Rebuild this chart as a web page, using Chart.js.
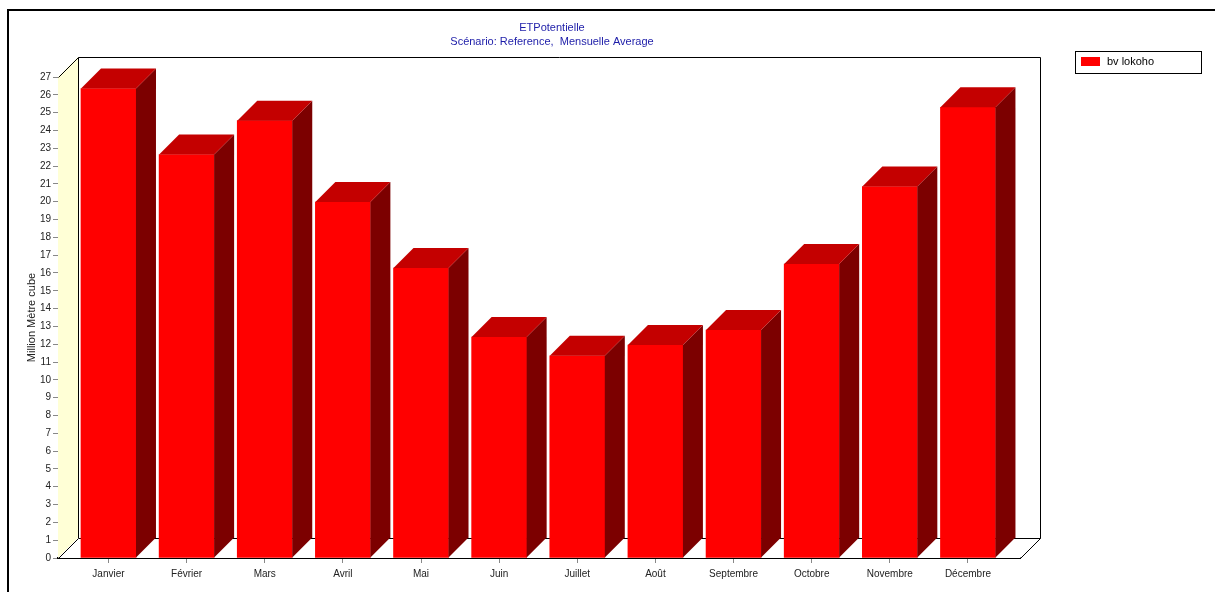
<!DOCTYPE html>
<html>
<head>
<meta charset="utf-8">
<title>ETPotentielle</title>
<script src="https://cdn.jsdelivr.net/npm/chart.js@4/dist/chart.umd.min.js"></script>
<style>
  html, body { margin: 0; padding: 0; background: #ffffff; }
  #wrap { width: 1215px; height: 592px; position: relative; }
</style>
</head>
<body>
<div id="wrap"><canvas id="chart" width="1215" height="592"></canvas></div>
<script>
// Monthly mean potential evapotranspiration (million m³), scenario "Reference"
const months = ['Janvier', 'Février', 'Mars', 'Avril', 'Mai', 'Juin',
                'Juillet', 'Août', 'Septembre', 'Octobre', 'Novembre', 'Décembre'];
const etpValues = [26.35, 22.65, 24.55, 19.98, 16.28, 12.4, 11.35, 11.95, 12.8, 16.5, 20.85, 25.3];
const seriesName = 'bv lokoho';
const titleLines = ['ETPotentielle', 'Scénario: Reference,  Mensuelle Average'];
const yAxisTitle = 'Million Mètre cube';
const yMax = 27;

// 3D look
const DEPTH = 20;
const FRONT = '#ff0000';
const TOP = '#c40000';
const SIDE = '#7c0000';
const WALL = '#ffffd6';
const FONT = '"Liberation Sans", Arial, sans-serif';

const decor = {
  id: 'decor',
  beforeDraw(chart) {
    const ctx = chart.ctx;
    ctx.save();
    ctx.fillStyle = '#ffffff';
    ctx.fillRect(0, 0, chart.width, chart.height);
    // outer frame
    ctx.strokeStyle = '#000';
    ctx.lineWidth = 2;
    ctx.strokeRect(8, 10, chart.width + 10, chart.height + 10);
    ctx.restore();
  },
  beforeDatasetsDraw(chart) {
    const ctx = chart.ctx;
    const a = chart.chartArea;
    const L = a.left, R = a.right, T = a.top, B = a.bottom, d = DEPTH;
    ctx.save();
    ctx.lineWidth = 1;
    ctx.strokeStyle = '#000';
    // back wall
    ctx.fillStyle = '#ffffff';
    ctx.fillRect(L + d, T - d, R - L, B - T);
    ctx.beginPath();
    ctx.moveTo(L + d + 0.5, B - d + 0.5);
    ctx.lineTo(L + d + 0.5, T - d + 0.5);
    ctx.lineTo(R + d + 0.5, T - d + 0.5);
    ctx.lineTo(R + d + 0.5, B - d + 0.5);
    ctx.stroke();
    // left side wall
    ctx.fillStyle = WALL;
    ctx.beginPath();
    ctx.moveTo(L, T);
    ctx.lineTo(L + d, T - d);
    ctx.lineTo(L + d, B - d);
    ctx.lineTo(L, B);
    ctx.closePath();
    ctx.fill();
    ctx.beginPath();
    ctx.moveTo(L + 0.5, T + 0.5);
    ctx.lineTo(L + d + 0.5, T - d + 0.5);
    ctx.stroke();
    // floor
    ctx.fillStyle = '#ffffff';
    ctx.beginPath();
    ctx.moveTo(L, B);
    ctx.lineTo(L + d, B - d);
    ctx.lineTo(R + d, B - d);
    ctx.lineTo(R, B);
    ctx.closePath();
    ctx.fill();
    ctx.beginPath();
    ctx.moveTo(L + 0.5, B + 0.5);
    ctx.lineTo(L + d + 0.5, B - d + 0.5);
    ctx.lineTo(R + d + 0.5, B - d + 0.5);
    ctx.lineTo(R + 0.5, B + 0.5);
    ctx.stroke();
    ctx.restore();
  },
  afterDatasetsDraw(chart) {
    const ctx = chart.ctx;
    const d = DEPTH;
    const meta = chart.getDatasetMeta(0);
    ctx.save();
    meta.data.forEach(bar => {
      const p = bar.getProps(['x', 'y', 'base', 'width'], true);
      const l = p.x - p.width / 2, r = p.x + p.width / 2;
      // side face
      ctx.fillStyle = SIDE;
      ctx.beginPath();
      ctx.moveTo(r, p.y);
      ctx.lineTo(r + d, p.y - d);
      ctx.lineTo(r + d, p.base - d);
      ctx.lineTo(r, p.base);
      ctx.closePath();
      ctx.fill();
      // top face
      ctx.fillStyle = TOP;
      ctx.beginPath();
      ctx.moveTo(l, p.y);
      ctx.lineTo(l + d, p.y - d);
      ctx.lineTo(r + d, p.y - d);
      ctx.lineTo(r, p.y);
      ctx.closePath();
      ctx.fill();
    });
    ctx.restore();
  },
  afterDraw(chart) {
    const ctx = chart.ctx;
    ctx.save();
    // title
    ctx.fillStyle = '#1c1ca8';
    ctx.font = '11px ' + FONT;
    ctx.textAlign = 'center';
    ctx.textBaseline = 'middle';
    ctx.fillText(titleLines[0], 552, 28);
    ctx.fillText(titleLines[1], 552, 42);
    // legend
    ctx.strokeStyle = '#000';
    ctx.lineWidth = 1;
    ctx.strokeRect(1075.5, 51.5, 126, 22);
    ctx.fillStyle = FRONT;
    ctx.fillRect(1081, 57, 19, 9);
    ctx.fillStyle = '#000';
    ctx.textAlign = 'left';
    ctx.fillText(seriesName, 1107, 62);
    ctx.restore();
  }
};

const points = months.map((m, i) => ({ x: i, y: etpValues[i] }));

new Chart(document.getElementById('chart'), {
  type: 'bar',
  data: {
    datasets: [{
      label: seriesName,
      data: points,
      backgroundColor: FRONT,
      borderWidth: 0,
      barThickness: 55
    }]
  },
  options: {
    responsive: false,
    animation: false,
    events: [],
    layout: { padding: { left: 0, top: 77, right: 195, bottom: 0 } },
    plugins: {
      legend: { display: false },
      title: { display: false },
      tooltip: { enabled: false }
    },
    scales: {
      x: {
        type: 'linear',
        offset: false,
        min: -0.646,
        max: 11.666,
        afterFit(s) { s.height = 34; },
        afterBuildTicks(s) { s.ticks = months.map((m, i) => ({ value: i })); },
        ticks: {
          autoSkip: false,
          maxRotation: 0,
          padding: 5,
          color: '#222',
          font: { family: FONT, size: 10 },
          callback: v => months[v] || ''
        },
        grid: { offset: false, drawOnChartArea: false, tickLength: 5, color: '#888' },
        border: { display: true, color: '#000', width: 2 }
      },
      y: {
        min: 0,
        max: yMax,
        afterFit(s) { s.width = 58; },
        ticks: {
          stepSize: 1,
          padding: 2,
          color: '#222',
          font: { family: FONT, size: 10 }
        },
        grid: { drawOnChartArea: false, tickLength: 5, color: '#888' },
        border: { display: true, color: '#000', width: 1 },
        title: {
          display: true,
          text: yAxisTitle,
          color: '#222',
          font: { family: FONT, size: 11 },
          padding: { top: 25, bottom: 0 }
        }
      }
    }
  },
  plugins: [decor]
});
</script>
</body>
</html>
